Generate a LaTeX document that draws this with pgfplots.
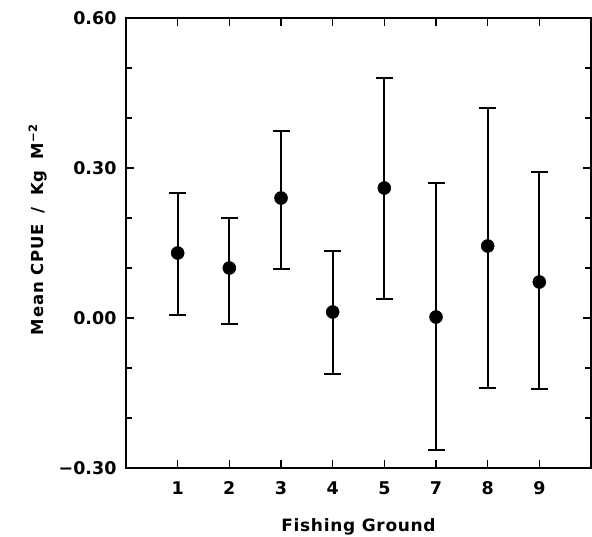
\documentclass[border=0pt]{standalone}
\usepackage{pgfplots}
\pgfplotsset{compat=1.18}
\usepackage{pgfplotstable}
\usepackage{fontspec}
\setmainfont{DejaVu Sans}
\newfontfamily\lsfont[LetterSpace=4]{DejaVu Sans}
\newfontfamily\lsyfont[LetterSpace=6]{DejaVu Sans}
\pgfplotstableread{
x y ep em
1 0.130 0.120 0.124
2 0.100 0.100 0.112
3 0.240 0.134 0.142
4 0.012 0.122 0.124
5 0.260 0.220 0.222
6 0.002 0.268 0.266
7 0.144 0.276 0.284
8 0.072 0.220 0.214
}\datatable
\begin{document}
\begin{tikzpicture}
\begin{axis}[
  name=ax,
  scale only axis,
  width=465pt, height=450pt,
  xmin=0, xmax=9,
  ymin=-0.3, ymax=0.6,
  xtick={1,2,3,4,5,6,7,8},
  xticklabels={1,2,3,4,5,7,8,9},
  ytick={-0.3,0,0.3,0.6},
  yticklabels={−0.30,0.00,0.30,0.60},
  minor y tick num=2,
  tick align=inside,
  major tick length=8pt,
  minor tick length=6pt,
  every tick/.style={black, line width=1.2pt},
  axis line style={line width=2.8pt},
  tick label style={font=\fontsize{17.5}{20}\selectfont\bfseries},
  yticklabel style={xshift=-6pt},
  xticklabel style={yshift=-10pt},
  xlabel={\lsfont\bfseries Fishing Ground},
  ylabel={\lsyfont\bfseries Mean\hspace{6pt}CPUE\hspace{10pt}/\hspace{12pt}Kg\hspace{11pt}M\textsuperscript{−2}},
  label style={font=\fontsize{17}{20}\selectfont},
  xlabel style={at={(axis description cs:0.5,-0.131)}, anchor=center},
  ylabel style={at={(axis description cs:-0.19,0.53)}, anchor=center, font=\fontsize{16.5}{19}\selectfont},
]
\addplot[black, line width=1.8pt, only marks,
  mark=*, mark size=6.5pt, mark options={fill=black, line width=0.5pt},
  error bars/.cd, y dir=both, y explicit,
  error bar style={line width=1.8pt},
  error mark options={rotate=90, mark size=8.5pt, line width=2pt}]
  table[x=x, y=y, y error plus=ep, y error minus=em] {\datatable};
\end{axis}
\pgfresetboundingbox
\path[use as bounding box] ([xshift=-126pt,yshift=-68pt]ax.south west) rectangle ([xshift=1pt,yshift=18pt]ax.north east);
\end{tikzpicture}
\end{document}
